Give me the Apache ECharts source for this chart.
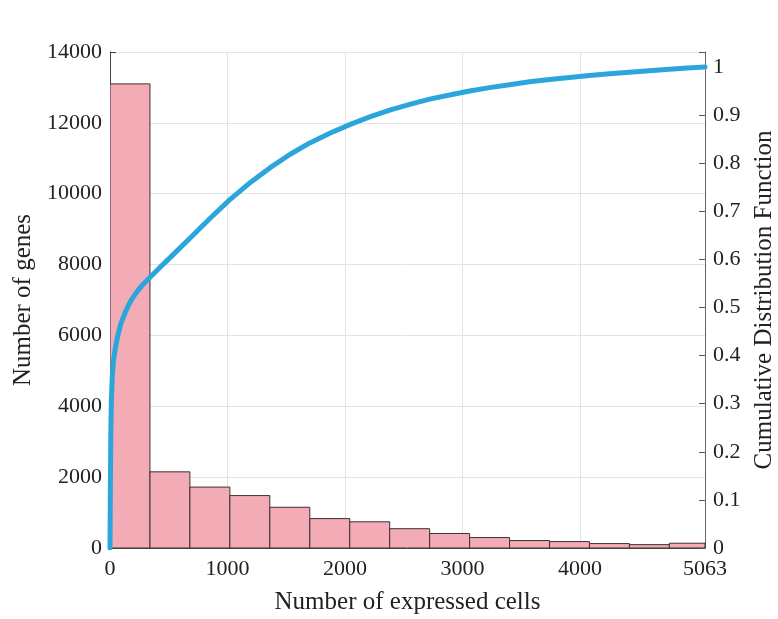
<!DOCTYPE html>
<html>
<head>
<meta charset="utf-8">
<script src="https://cdn.jsdelivr.net/npm/echarts@6/dist/echarts.min.js"></script>
<style>
  html, body { margin: 0; padding: 0; background: #fff; }
  #chart { width: 778px; height: 619px; }
</style>
</head>
<body>
<div id="chart"></div>
<script>
// histogram bins (edges) and gene counts per bin
const binEdges = [0, 340, 680, 1020, 1360, 1700, 2040, 2380, 2720, 3060, 3400, 3740, 4080, 4420, 4760, 5100];
const geneCounts = [13100, 2150, 1720, 1480, 1150, 830, 740, 545, 410, 295, 210, 180, 125, 95, 135];

// cumulative distribution curve
const cdfCells = [0, 3, 7, 12, 20, 30, 45, 65, 90, 130, 160, 190, 227, 270, 335, 420, 500, 680, 850, 1020, 1200, 1360, 1530, 1700, 1870, 2040, 2210, 2380, 2550, 2720, 2900, 3060, 3230, 3400, 3570, 3740, 3910, 4080, 4250, 4420, 4590, 4760, 4910, 5063];
const cdfValues = [0, 0.12, 0.24, 0.31, 0.36, 0.39, 0.415, 0.44, 0.465, 0.49, 0.506, 0.519, 0.532, 0.545, 0.561, 0.582, 0.601, 0.644, 0.685, 0.724, 0.761, 0.79, 0.818, 0.842, 0.862, 0.88, 0.896, 0.91, 0.922, 0.933, 0.942, 0.95, 0.957, 0.963, 0.969, 0.974, 0.978, 0.982, 0.986, 0.989, 0.992, 0.995, 0.9975, 1.0];

// x axis ticks
const xTicks = [0, 1000, 2000, 3000, 4000, 5063];
const xGrid = [1000, 2000, 3000, 4000];

const serif = "'Liberation Serif', 'Times New Roman', serif";
const tickFont = { fontFamily: serif, fontSize: 22, color: '#222' };
const nameFont = { fontFamily: serif, fontSize: 25, color: '#222' };

const histData = geneCounts.map((c, i) => [binEdges[i], binEdges[i + 1], c]);
const cdfData = cdfCells.map((c, i) => [c, cdfValues[i]]);

const chart = echarts.init(document.getElementById('chart'));

const option = {
    backgroundColor: '#fff',
    animation: false,
    grid: {
        left: 110,
        right: 73,
        top: 52,
        bottom: 71,
        containLabel: false,
        outerBoundsMode: 'none',
    },
    xAxis: {
        type: 'value',
        min: 0,
        max: 5063,
        interval: 1000,
        name: 'Number of expressed cells',
        nameLocation: 'middle',
        nameGap: 42,
        nameTextStyle: nameFont,
        axisLine: { lineStyle: { color: '#444', width: 1 } },
        axisTick: { inside: true, length: 6, customValues: xTicks, lineStyle: { color: '#444' } },
        axisLabel: { ...tickFont, margin: 10, customValues: xTicks, formatter: (v) => String(v) },
        splitLine: { show: false },
    },
    yAxis: [
        {
            type: 'value',
            position: 'left',
            min: 0,
            max: 14000,
            interval: 2000,
            name: 'Number of genes',
            nameLocation: 'middle',
            nameGap: 60,
            nameTextStyle: nameFont,
            axisLine: { show: true, lineStyle: { color: '#444', width: 1 } },
            axisTick: { show: true, inside: true, length: 6, lineStyle: { color: '#444' } },
            axisLabel: { ...tickFont, margin: 8, formatter: (v) => String(v) },
            splitLine: { show: true, lineStyle: { color: '#e3e3e3', width: 1 } },
        },
        {
            type: 'value',
            position: 'right',
            min: 0,
            max: 1.031,
            interval: 0.1,
            name: 'Cumulative Distribution Function',
            nameLocation: 'middle',
            nameGap: 47,
            nameTextStyle: nameFont,
            axisLine: { show: true, lineStyle: { color: '#666', width: 1 } },
            axisTick: { show: true, inside: true, length: 6, lineStyle: { color: '#555' } },
            axisLabel: {
                ...tickFont,
                margin: 8,
                formatter: (v) => (v > 1.0001 ? '' : String(+v.toFixed(1))),
            },
            splitLine: { show: false },
        },
    ],
    series: [
        {
            type: 'custom',
            name: 'genes',
            yAxisIndex: 0,
            clip: true,
            data: histData,
            encode: { x: [0, 1], y: 2 },
            renderItem: (params, api) => {
                const p0 = api.coord([api.value(0), api.value(2)]);
                const p1 = api.coord([api.value(1), 0]);
                const shape = echarts.graphic.clipRectByRect(
                    { x: p0[0], y: p0[1], width: p1[0] - p0[0], height: p1[1] - p0[1] },
                    { x: params.coordSys.x, y: params.coordSys.y, width: params.coordSys.width, height: params.coordSys.height }
                );
                return shape && {
                    type: 'rect',
                    shape: shape,
                    style: { fill: '#f3abb5', stroke: '#3d3033', lineWidth: 1 },
                };
            },
            // vertical grid lines
            markLine: {
                silent: true,
                symbol: 'none',
                label: { show: false },
                lineStyle: { color: '#e3e3e3', width: 1, type: 'solid' },
                data: xGrid.map((v) => ({ xAxis: v })),
                z: 0,
            },
            z: 2,
        },
        {
            type: 'line',
            name: 'cdf',
            yAxisIndex: 1,
            data: cdfData,
            showSymbol: false,
            smooth: false,
            lineStyle: { color: '#2ba6dc', width: 5, join: 'round', cap: 'round' },
            z: 5,
        },
    ],
};

chart.setOption(option);
</script>
</body>
</html>
